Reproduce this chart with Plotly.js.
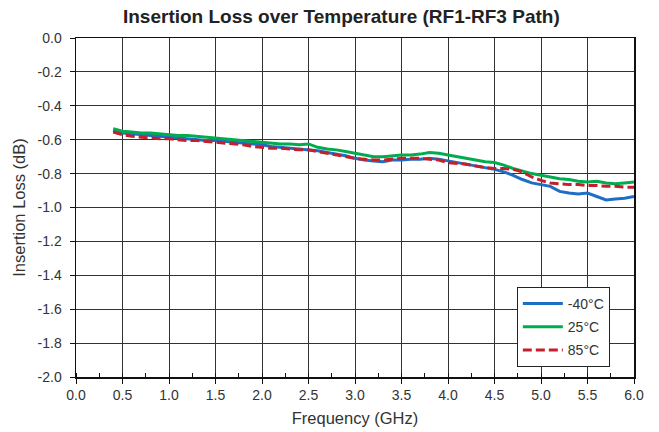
<!DOCTYPE html>
<html>
<head>
<meta charset="utf-8">
<script src="https://cdn.plot.ly/plotly-3.0.1.min.js"></script>
<style>html,body{margin:0;padding:0;background:#fff;}#chart{width:659px;height:432px;}</style>
</head>
<body>
<div id="chart"></div>
<script>
const freq = [0.4,0.5,0.6,0.7,0.8,0.9,1.0,1.1,1.2,1.3,1.4,1.5,1.6,1.7,1.8,1.9,2.0,2.1,2.2,2.3,2.4,2.5,2.6,2.7,2.8,2.9,3.0,3.1,3.2,3.3,3.4,3.5,3.6,3.7,3.8,3.9,4.0,4.1,4.2,4.3,4.4,4.5,4.6,4.7,4.8,4.9,5.0,5.1,5.2,5.3,5.4,5.5,5.6,5.7,5.8,5.9,6.0];
const lossM40 = [-0.545,-0.56,-0.565,-0.57,-0.575,-0.58,-0.585,-0.59,-0.595,-0.60,-0.605,-0.605,-0.61,-0.615,-0.62,-0.625,-0.63,-0.64,-0.645,-0.65,-0.655,-0.66,-0.665,-0.675,-0.685,-0.695,-0.71,-0.72,-0.725,-0.73,-0.72,-0.72,-0.715,-0.715,-0.71,-0.715,-0.725,-0.735,-0.745,-0.755,-0.765,-0.775,-0.79,-0.81,-0.835,-0.855,-0.865,-0.875,-0.905,-0.915,-0.92,-0.915,-0.935,-0.955,-0.95,-0.945,-0.935];
const loss25 = [-0.535,-0.55,-0.555,-0.56,-0.56,-0.565,-0.57,-0.575,-0.575,-0.58,-0.585,-0.59,-0.595,-0.60,-0.605,-0.61,-0.615,-0.62,-0.625,-0.625,-0.63,-0.625,-0.645,-0.655,-0.66,-0.67,-0.68,-0.69,-0.70,-0.70,-0.695,-0.69,-0.69,-0.685,-0.675,-0.68,-0.69,-0.70,-0.71,-0.72,-0.73,-0.735,-0.75,-0.77,-0.785,-0.80,-0.81,-0.82,-0.83,-0.835,-0.845,-0.85,-0.845,-0.855,-0.86,-0.855,-0.85];
const loss85 = [-0.555,-0.57,-0.58,-0.585,-0.59,-0.595,-0.595,-0.60,-0.605,-0.605,-0.61,-0.615,-0.62,-0.625,-0.63,-0.64,-0.645,-0.65,-0.65,-0.655,-0.66,-0.66,-0.67,-0.68,-0.69,-0.70,-0.71,-0.715,-0.72,-0.72,-0.715,-0.71,-0.71,-0.71,-0.715,-0.72,-0.735,-0.74,-0.745,-0.755,-0.765,-0.77,-0.77,-0.775,-0.79,-0.82,-0.84,-0.855,-0.86,-0.865,-0.865,-0.87,-0.87,-0.875,-0.875,-0.88,-0.88];
const seriesNames = ['-40°C','25°C','85°C'];
const xTickVals = [0,0.5,1,1.5,2,2.5,3,3.5,4,4.5,5,5.5,6];
const xTickText = ['0.0','0.5','1.0','1.5','2.0','2.5','3.0','3.5','4.0','4.5','5.0','5.5','6.0'];
const yTickVals = [0,-0.2,-0.4,-0.6,-0.8,-1.0,-1.2,-1.4,-1.6,-1.8,-2.0];
const yTickText = ['0.0','-0.2','-0.4','-0.6','-0.8','-1.0','-1.2','-1.4','-1.6','-1.8','-2.0'];

const traces = [
  {x: freq, y: lossM40, name: seriesNames[0], legendgroup: 'g1', mode: 'lines', line: {color: '#1e6fc4', width: 3}},
  {x: freq, y: loss25, name: seriesNames[1], legendgroup: 'g2', mode: 'lines', line: {color: '#00ac4e', width: 3}},
  {x: freq, y: loss85, name: seriesNames[2], legendgroup: 'g3', mode: 'lines', line: {color: '#c3202b', width: 3, dash: '9px,4px'}}
];
const font = 'Liberation Sans, Arial, sans-serif';
const layout = {
  width: 659, height: 432,
  margin: {l: 76, r: 25, t: 38, b: 55},
  paper_bgcolor: '#fff', plot_bgcolor: '#fff',
  font: {family: font, color: '#333', size: 14},
  title: {text: '<b>Insertion Loss over Temperature (RF1-RF3 Path)</b>', font: {family: font, size: 19, color: '#222'}, x: 0.518, xanchor: 'center', y: 0.978, yanchor: 'top'},
  showlegend: true,
  legend: {x: 0.79, y: 0.2655, xanchor: 'left', yanchor: 'top', bgcolor: '#fff', bordercolor: '#222', borderwidth: 1, font: {family: font, size: 14, color: '#333'}, tracegroupgap: 2, itemwidth: 40},
  xaxis: {
    range: [0, 6], tickvals: xTickVals, ticktext: xTickText,
    showgrid: true, gridcolor: '#333', gridwidth: 1,
    showline: true, linecolor: '#111', linewidth: 1.5, mirror: true,
    ticks: 'outside', ticklen: 5, tickcolor: '#111',
    tickfont: {family: font, size: 14, color: '#333'},
    minor: {dtick: 0.25, ticks: 'inside', ticklen: 4, tickcolor: '#111', showgrid: false},
    zeroline: false,
    title: {text: 'Frequency (GHz)', font: {family: font, size: 16.5, color: '#333'}, standoff: 10}
  },
  yaxis: {
    range: [-2, 0], tickvals: yTickVals, ticktext: yTickText,
    showgrid: true, gridcolor: '#333', gridwidth: 1,
    showline: true, linecolor: '#111', linewidth: 1.5, mirror: true,
    ticks: 'outside', ticklen: 5, tickcolor: '#111', ticklabelstandoff: 5,
    tickfont: {family: font, size: 14, color: '#333'},
    zeroline: false,
    title: {text: 'Insertion Loss (dB)', font: {family: font, size: 16.5, color: '#333'}, standoff: 8}
  }
};
Plotly.newPlot('chart', traces, layout, {displayModeBar: false, staticPlot: true});
</script>
</body>
</html>
